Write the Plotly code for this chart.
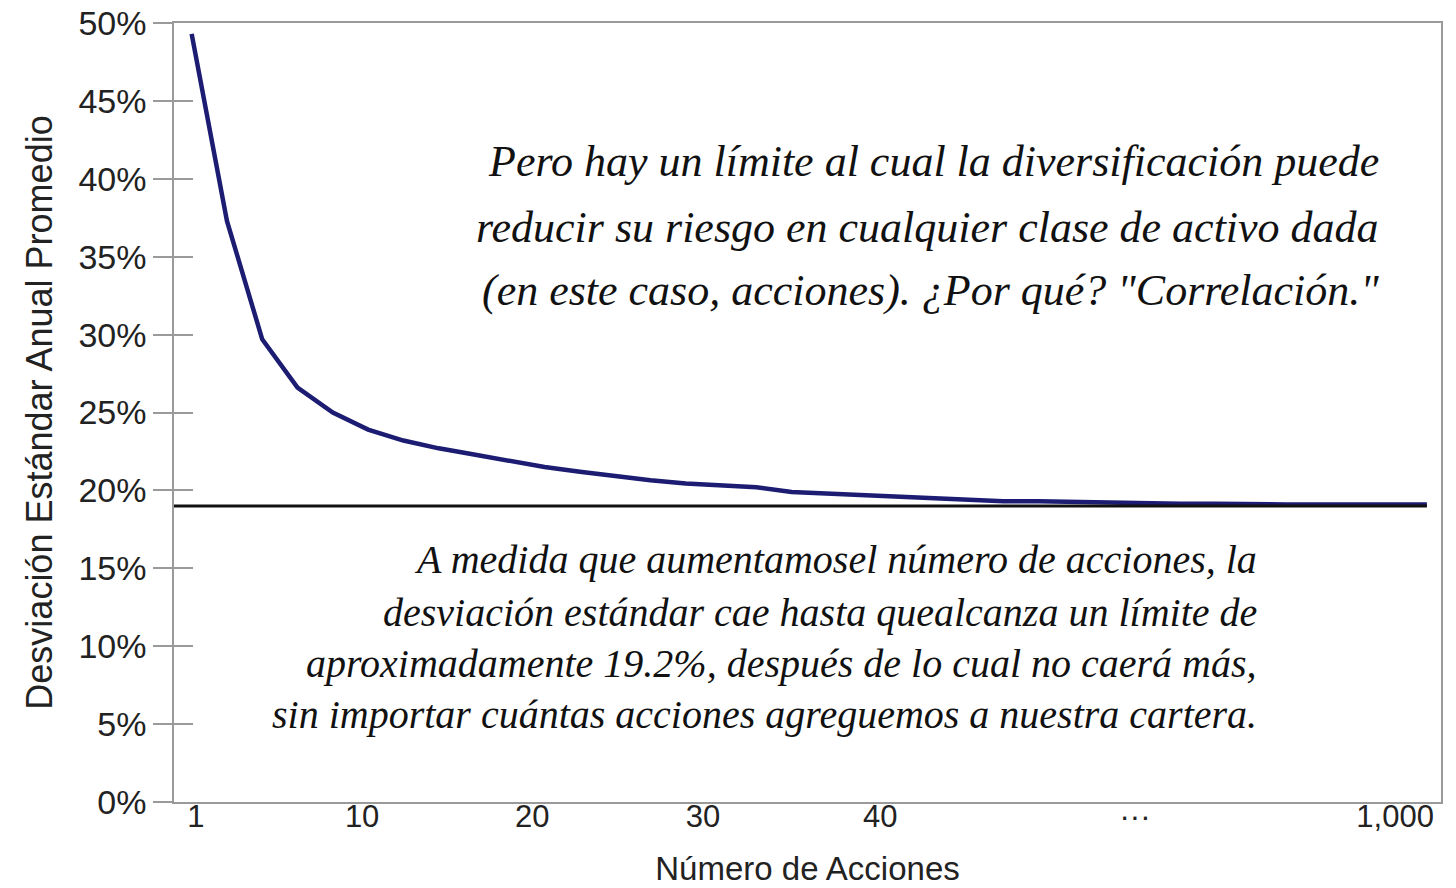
import plotly.graph_objects as go

# Average annual standard deviation (%) for portfolios of increasing size (evenly spaced steps)
std_dev = [49.3, 37.3, 29.7, 26.6, 25.0, 23.9, 23.2, 22.7, 22.3, 21.9,
           21.5, 21.2, 20.9, 20.65, 20.45, 20.3, 20.2, 19.9, 19.8, 19.7,
           19.6, 19.5, 19.4, 19.3, 19.3, 19.25, 19.2, 19.2, 19.15, 19.15,
           19.1, 19.1, 19.1, 19.1, 19.1, 19.1]
step_index = list(range(len(std_dev)))

limit_value = 19.0

x_tick_labels = ["1", "10", "20", "30", "40", "···", "1,000"]
x_tick_positions = [0.12, 4.83, 9.65, 14.49, 19.51, 26.73, 34.1]

y_tick_values = [0, 5, 10, 15, 20, 25, 30, 35, 40, 45, 50]
y_tick_labels = [f"{v}%" for v in y_tick_values]

top_text = [
    "Pero hay un límite al cual la diversificación puede",
    "reducir su riesgo en cualquier clase de activo dada",
    "(en este caso, acciones). ¿Por qué? \"Correlación.\"",
]
bottom_text = [
    "A medida que aumentamosel número de acciones, la",
    "desviación estándar cae hasta quealcanza un límite de",
    "aproximadamente 19.2%, después de lo cual no caerá más,",
    "sin importar cuántas acciones agreguemos a nuestra cartera.",
]

x_range = [-0.5, 35.4]
y_range = [0, 50]

fig = go.Figure()

fig.add_trace(go.Scatter(
    x=[x_range[0], step_index[-1]], y=[limit_value, limit_value],
    mode="lines", line=dict(color="#111111", width=3),
    yaxis="y2", hoverinfo="skip", showlegend=False))

fig.add_trace(go.Scatter(
    x=step_index, y=std_dev, mode="lines",
    line=dict(color="#1c1c72", width=4.5),
    showlegend=False))

annotations = []
top_y = [0.8228, 0.7369, 0.657]
for line, yy in zip(top_text, top_y):
    annotations.append(dict(
        text=line, xref="paper", yref="paper", x=0.953, y=yy,
        xanchor="right", yanchor="middle", showarrow=False,
        font=dict(family="Liberation Serif, Times New Roman, serif", size=44,
                  color="#111111", style="italic")))
bottom_y = [0.3107, 0.2439, 0.1784, 0.1117]
for line, yy in zip(bottom_text, bottom_y):
    annotations.append(dict(
        text=line, xref="paper", yref="paper", x=0.856, y=yy,
        xanchor="right", yanchor="middle", showarrow=False,
        font=dict(family="Liberation Serif, Times New Roman, serif", size=40,
                  color="#111111", style="italic")))

axis_font = "Liberation Sans, Arial, sans-serif"

fig.update_layout(
    width=1456, height=888,
    margin=dict(l=174, r=15, t=23, b=86),
    paper_bgcolor="white", plot_bgcolor="white",
    font=dict(family=axis_font, color="#222222"),
    xaxis=dict(
        range=x_range, showgrid=False, zeroline=False, automargin=False,
        showline=True, linecolor="#9a9a9a", linewidth=1.5, mirror=True,
        tickmode="array", tickvals=x_tick_positions, ticktext=x_tick_labels,
        ticks="", ticklen=0, ticklabelstandoff=-14, ticklabeloverflow="allow",
        tickfont=dict(size=31, color="#222222"),
        title=dict(text="Número de Acciones", font=dict(size=33, color="#222222"),
                   standoff=24),
    ),
    yaxis=dict(
        range=y_range, showgrid=False, zeroline=False, automargin=False,
        showline=True, linecolor="#9a9a9a", linewidth=1.5, mirror=True,
        tickmode="array", tickvals=y_tick_values, ticktext=y_tick_labels,
        ticks="outside", ticklen=19, tickcolor="#9a9a9a", tickwidth=1.5,
        ticklabeloverflow="allow",
        tickfont=dict(size=34, color="#222222"),
        title=dict(text="Desviación Estándar Anual Promedio",
                   font=dict(size=36, color="#222222"), standoff=15),
    ),
    yaxis2=dict(
        range=y_range, overlaying="y", side="left", showgrid=False,
        zeroline=False, showline=False, automargin=False,
        tickmode="array", tickvals=y_tick_values, showticklabels=False,
        ticks="inside", ticklen=19, tickcolor="#9a9a9a", tickwidth=1.5,
    ),
    annotations=annotations,
)

fig.write_html("out.html",
               config={"displayModeBar": False},
               post_script="document.body.style.margin='0px';")
